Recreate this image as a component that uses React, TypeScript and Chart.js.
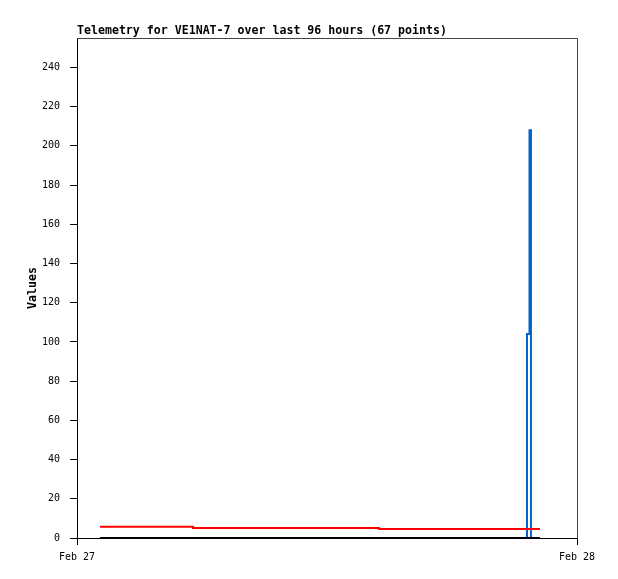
import { useEffect, useRef } from 'react';
import { Chart, registerables } from 'chart.js';

Chart.register(...registerables);

const TITLE = 'Telemetry for VE1NAT-7 over last 96 hours (67 points)';
const Y_LABEL = 'Values';
const X_TICK_HOURS = [0, 24];
const X_TICK_LABELS = ['Feb 27', 'Feb 28'];
const Y_MAX = 255;
const Y_STEP = 20;

// hours since Feb 27 00:00
const BLACK_HOURS = [1.1, 5.57, 14.5, 22.22];
const BLACK_VALUES = [0, 0, 0, 0];

const RED_HOURS = [1.1, 5.57, 14.5, 22.22];
const RED_VALUES = [5.8, 5.1, 4.6, 4.6];

const BLUE_HOURS = [1.1, 21.6, 21.72, 21.79, 22.22];
const BLUE_VALUES = [0, 104, 208, 0, 0];

const toPoints = (xs: number[], ys: number[]) => xs.map((x, i) => ({ x, y: ys[i] }));

const MONO = '"DejaVu Sans Mono", "Liberation Mono", monospace';

const framePlugin = {
  id: 'frameAndTitle',
  afterDraw(chart: any) {
    const { ctx, chartArea } = chart;
    const { left, right, top, bottom } = chartArea;
    ctx.save();
    ctx.strokeStyle = '#444444';
    ctx.lineWidth = 1;
    ctx.beginPath();
    ctx.moveTo(left, Math.floor(top) + 0.5);
    ctx.lineTo(Math.round(right) + 0.5, Math.floor(top) + 0.5);
    ctx.lineTo(Math.round(right) + 0.5, bottom);
    ctx.stroke();
    ctx.fillStyle = '#000000';
    ctx.font = 'bold 11.6px ' + MONO;
    ctx.textAlign = 'left';
    ctx.textBaseline = 'middle';
    ctx.fillText(TITLE, left, 30.5);
    ctx.restore();
  },
};

export default function App() {
  const ref = useRef<HTMLCanvasElement | null>(null);

  useEffect(() => {
    if (!ref.current) return;
    const chart = new Chart(ref.current, {
      type: 'line',
      data: {
        datasets: [
          {
            label: 'black',
            data: toPoints(BLACK_HOURS, BLACK_VALUES),
            borderColor: '#000000',
            borderWidth: 2,
            pointRadius: 0,
            stepped: true,
            clip: false,
          },
          {
            label: 'red',
            data: toPoints(RED_HOURS, RED_VALUES),
            borderColor: '#ff0000',
            borderWidth: 2,
            pointRadius: 0,
            stepped: true,
            clip: false,
          },
          {
            label: 'blue',
            data: toPoints(BLUE_HOURS, BLUE_VALUES),
            borderColor: '#0066cc',
            borderWidth: 2,
            pointRadius: 0,
            stepped: true,
            clip: false,
          },
        ],
      },
      options: {
        animation: false,
        responsive: false,
        maintainAspectRatio: false,
        layout: { padding: { left: 0, top: 38, right: 41, bottom: 0 } },
        plugins: {
          legend: { display: false },
          title: { display: false },
          tooltip: { enabled: false },
        },
        scales: {
          x: {
            type: 'linear',
            min: X_TICK_HOURS[0],
            max: X_TICK_HOURS[X_TICK_HOURS.length - 1],
            afterBuildTicks: (scale: any) => {
              scale.ticks = X_TICK_HOURS.map((v) => ({ value: v }));
            },
            afterFit: (scale: any) => {
              scale.height = 41;
            },
            ticks: {
              color: '#000000',
              font: { family: MONO, size: 10 },
              padding: 6,
              maxRotation: 0,
              autoSkip: false,
              callback: (v: any) => {
                const i = X_TICK_HOURS.indexOf(Number(v));
                return i >= 0 ? X_TICK_LABELS[i] : '';
              },
            },
            grid: {
              drawOnChartArea: false,
              drawTicks: true,
              tickLength: 7,
              color: '#000000',
            },
            border: { color: '#000000', width: 1 },
          },
          y: {
            type: 'linear',
            min: 0,
            max: Y_MAX,
            afterFit: (scale: any) => {
              scale.width = 77;
            },
            ticks: {
              stepSize: Y_STEP,
              includeBounds: false,
              color: '#000000',
              font: { family: MONO, size: 10 },
              padding: 10,
            },
            grid: {
              drawOnChartArea: false,
              drawTicks: true,
              tickLength: 7,
              color: '#000000',
            },
            border: { color: '#000000', width: 1 },
            title: {
              display: true,
              text: Y_LABEL,
              color: '#000000',
              font: { family: MONO, size: 11.6, weight: 'bold' },
              padding: { top: 26, bottom: 0 },
            },
          },
        },
      },
      plugins: [framePlugin],
    });
    return () => chart.destroy();
  }, []);

  return (
    <div style={{ position: 'fixed', left: 0, top: 0, width: 618, height: 579, background: '#fff' }}>
      <canvas ref={ref} width={618} height={579} style={{ width: 618, height: 579 }} />
    </div>
  );
}
